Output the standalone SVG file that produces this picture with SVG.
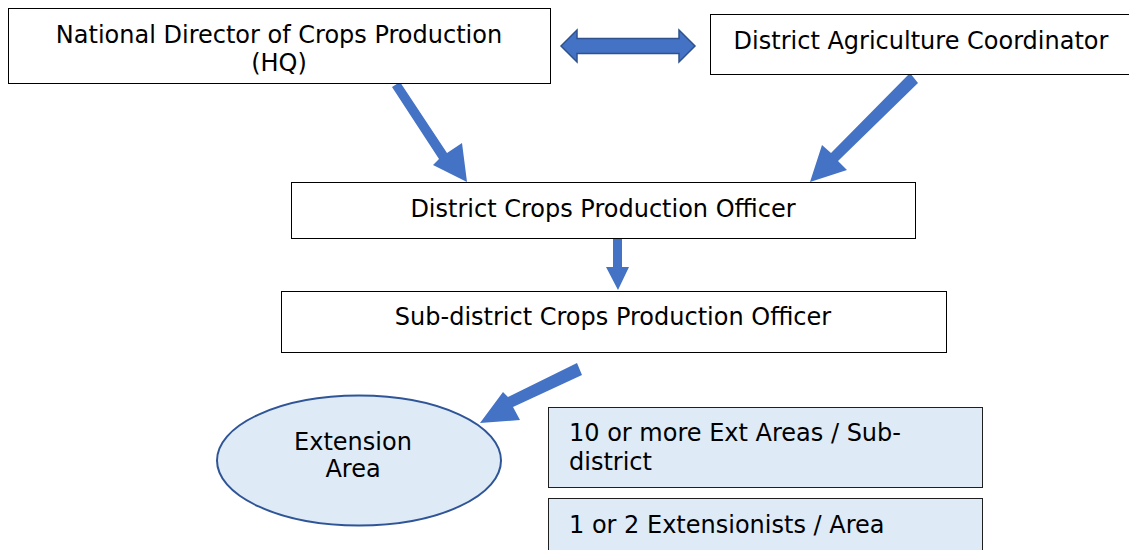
<svg xmlns="http://www.w3.org/2000/svg" width="1129" height="550" viewBox="0 0 1129 550">
  <style>
    .box { fill: #ffffff; stroke: #000000; stroke-width: 1; }
    .info { fill: #deebf7; stroke: #1f1f1f; stroke-width: 1; }
    .lbl { font-family: "DejaVu Sans", Verdana, sans-serif; font-size: 24px; fill: #000000; }
    .mid { text-anchor: middle; }
    .arrow { fill: #4472c4; }
    .darrow { fill: #4472c4; stroke: #2f528f; stroke-width: 1.5; }
  </style>

  <!-- connectors -->
  <g id="connectors">
    <!-- two-way link between HQ and district coordinator -->
    <path class="darrow" d="M561,46 L577,30 L577,38.5 L679,38.5 L679,30 L695,46 L679,62 L679,53.5 L577,53.5 L577,62 Z"/>
    <!-- HQ to district officer -->
    <path class="arrow" d="M392,87 L400,82 L447,153 L462,143 L467,182 L433,165 L439,159 Z"/>
    <!-- coordinator to district officer -->
    <path class="arrow" d="M910,73 L918,83 L838,161 L847,170 L810,182 L822,145 L831,153 Z"/>
    <!-- district officer to sub-district officer -->
    <path class="arrow" d="M613,238 L622,238 L622,267 L629,267 L618,290 L606,267 L613,267 Z"/>
    <!-- sub-district officer to extension area -->
    <path class="arrow" d="M577,363 L582,375 L513,407 L520,420 L480,423 L503,392 L508,397 Z"/>
  </g>

  <g id="national-director">
    <rect class="box" x="8.5" y="8.5" width="542" height="75"/>
    <text class="lbl mid" x="279" y="43">National Director of Crops Production</text>
    <text class="lbl mid" x="279" y="71">(HQ)</text>
  </g>

  <g id="district-coordinator">
    <rect class="box" x="710.5" y="14.5" width="425" height="60"/>
    <text class="lbl mid" x="921" y="49">District Agriculture Coordinator</text>
  </g>

  <g id="district-officer">
    <rect class="box" x="291.5" y="182.5" width="624" height="56"/>
    <text class="lbl mid" x="603" y="217">District Crops Production Officer</text>
  </g>

  <g id="subdistrict-officer">
    <rect class="box" x="281.5" y="291.5" width="665" height="61"/>
    <text class="lbl mid" x="613" y="325">Sub-district Crops Production Officer</text>
  </g>

  <g id="extension-area">
    <ellipse cx="359" cy="460.5" rx="142" ry="65" fill="#deebf7" stroke="#2f5597" stroke-width="2"/>
    <text class="lbl mid" x="353" y="450">Extension</text>
    <text class="lbl mid" x="353" y="477">Area</text>
  </g>

  <g id="areas-per-subdistrict">
    <rect class="info" x="548.5" y="407.5" width="434" height="80"/>
    <text class="lbl" x="569" y="441">10 or more Ext Areas / Sub-</text>
    <text class="lbl" x="569" y="470">district</text>
  </g>

  <g id="extensionists-per-area">
    <rect class="info" x="548.5" y="498.5" width="434" height="60"/>
    <text class="lbl" x="569" y="533">1 or 2 Extensionists / Area</text>
  </g>
</svg>
